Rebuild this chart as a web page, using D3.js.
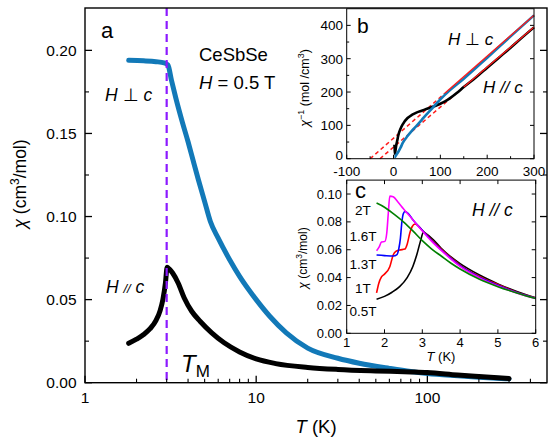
<!DOCTYPE html>
<html><head><meta charset="utf-8">
<script src="https://cdn.jsdelivr.net/npm/d3@7"></script>
<style>
body{margin:0;background:#fff;}
svg text{font-family:"Liberation Sans",Arial,Helvetica,sans-serif;fill:#000;}
</style></head><body>
<svg id="chart" width="548" height="437"></svg>
<script>
// ---------- DATA ----------
// main panel a: chi (cm3/mol) vs T (K), H = 0.5 T
const mainT_perp   = [1.8, 2.2, 2.6, 2.9, 3.05, 3.2, 3.4, 3.7, 4.0, 4.3, 4.6, 5.0, 5.4, 6, 7, 8, 10, 12, 15, 20, 30, 40, 60, 80, 100, 150, 200, 300];
const mainChi_perp = [0.194, 0.1937, 0.1932, 0.1925, 0.1912, 0.182, 0.171, 0.157, 0.145, 0.133, 0.122, 0.109, 0.097, 0.087, 0.074, 0.064, 0.050, 0.040, 0.030, 0.0208, 0.0147, 0.0117, 0.0086, 0.0067, 0.0056, 0.0042, 0.0033, 0.0023];
const mainT_par    = [1.8, 2.0, 2.2, 2.4, 2.6, 2.75, 2.85, 2.95, 3.02, 3.1, 3.25, 3.5, 3.8, 4.2, 4.7, 5.5, 6.5, 8, 10, 13, 20, 30, 50, 80, 100, 150, 200, 300];
const mainChi_par  = [0.0237, 0.0262, 0.0290, 0.0325, 0.0375, 0.0435, 0.050, 0.060, 0.0695, 0.0685, 0.066, 0.060, 0.051, 0.043, 0.037, 0.030, 0.024, 0.0185, 0.0143, 0.0115, 0.0092, 0.0080, 0.0071, 0.0065, 0.0061, 0.0046, 0.0037, 0.0025];
const transitionT = 3.0;
const mainXTicks = [1, 10, 100];
const mainXMinor = [2,3,4,5,6,7,8,9,20,30,40,50,60,70,80,90,200,300,400];
const mainYTicks = [0, 0.05, 0.10, 0.15, 0.20];
const mainYMinor = [0.025, 0.075, 0.125, 0.175];

// inset b: 1/chi (mol/cm3) vs T (K)
const bT_perp = [1.8, 3, 4, 5, 7, 10, 15, 20, 30, 40, 50, 60, 70, 80, 90, 100, 120, 150, 200, 250, 300];
const bV_perp = [5.2, 5.2, 6.9, 9.5, 14, 20, 33, 48, 68, 85, 100, 116, 132, 147, 163, 178, 205, 240, 303, 367, 430];
const bT_par  = [1.8, 2.5, 3.0, 4, 6, 8, 10, 15, 20, 30, 40, 50, 60, 70, 80, 90, 100, 110, 120, 135, 150, 175, 200, 225, 250, 275, 300];
const bV_par  = [42, 30, 14.5, 23, 42, 55, 69, 90, 104, 122, 132, 139, 144, 149, 154, 159, 165, 172, 181, 197, 215, 243, 273, 303, 333, 364, 394];
// Curie-Weiss fit lines (dashed extrapolation, solid over data)
const fitPerpDashT = [-50, 110], fitPerpDashV = [0, 196.8];
const fitPerpSolidT = [110, 300], fitPerpSolidV = [196.8, 430.5];
const fitParDashT = [-29, 150], fitParDashV = [0, 214.8];
const fitParSolidT = [150, 300], fitParSolidV = [214.8, 394.8];
const bXTicks = [-100, 0, 100, 200, 300];
const bXMinor = [-50, 50, 150, 250];
const bYTicks = [0, 100, 200, 300, 400];
const bYMinor = [50, 150, 250, 350];

// inset c: chi vs T at several fields, H // c
const cFields = ["0.5T", "1T", "1.3T", "1.6T", "2T"];
const cT_05  = [1.79, 2.0, 2.2, 2.4, 2.6, 2.75, 2.85, 2.95, 3.03, 3.1, 3.3, 3.5, 3.75, 4.0, 4.5, 5.0, 5.5, 6.0];
const cChi_05= [0.0245, 0.0265, 0.0295, 0.0335, 0.040, 0.048, 0.056, 0.066, 0.0725, 0.0715, 0.067, 0.061, 0.055, 0.050, 0.042, 0.0355, 0.030, 0.0255];
const cT_1   = [1.79, 1.85, 1.92, 2.0, 2.14, 2.23, 2.3, 2.4, 2.54, 2.6, 2.67, 2.73, 2.81, 3.0, 3.25, 3.5, 3.75, 4.0, 4.5, 5.0, 5.5, 6.0];
const cChi_1 = [0.029, 0.036, 0.0405, 0.0425, 0.0478, 0.0562, 0.0588, 0.0598, 0.0605, 0.064, 0.072, 0.0765, 0.0785, 0.074, 0.067, 0.0605, 0.0545, 0.049, 0.041, 0.035, 0.0295, 0.0253];
const cT_13  = [1.79, 2.0, 2.23, 2.33, 2.38, 2.42, 2.46, 2.5, 2.54, 2.63, 2.75, 3.0, 3.25, 3.5, 3.75, 4.0, 4.5, 5.0, 5.5, 6.0];
const cChi_13= [0.0562, 0.0558, 0.0555, 0.0565, 0.061, 0.068, 0.080, 0.086, 0.0875, 0.086, 0.0815, 0.074, 0.0665, 0.060, 0.054, 0.0485, 0.0405, 0.0345, 0.0293, 0.0252];
const cT_16  = [1.79, 1.86, 1.92, 2.01, 2.06, 2.10, 2.14, 2.23, 2.35, 2.5, 2.75, 3.0, 3.25, 3.5, 3.75, 4.0, 4.5, 5.0, 5.5, 6.0];
const cChi_16= [0.0593, 0.062, 0.0655, 0.066, 0.072, 0.086, 0.0985, 0.098, 0.0945, 0.0895, 0.0815, 0.0735, 0.066, 0.0595, 0.0535, 0.048, 0.040, 0.034, 0.029, 0.025];
const cT_2   = [1.79, 2.0, 2.25, 2.5, 2.75, 3.0, 3.25, 3.5, 3.75, 4.0, 4.5, 5.0, 5.5, 6.0];
const cChi_2 = [0.0935, 0.0905, 0.0855, 0.080, 0.0735, 0.0665, 0.0605, 0.0555, 0.0505, 0.0462, 0.039, 0.0335, 0.029, 0.025];
const cXTicks = [1, 2, 3, 4, 5, 6];
const cYTicks = [0, 0.02, 0.04, 0.06, 0.08, 0.10];

// ---------- DRAW ----------
const svg = d3.select("#chart");
const zip = (a, b) => a.map((v, i) => [v, b[i]]);

function tickLinesX(g, scale, vals, y0, len, w) {
  g.append("g").selectAll("line").data(vals).join("line")
    .attr("x1", d => scale(d)).attr("x2", d => scale(d))
    .attr("y1", y0).attr("y2", y0 + len).attr("stroke", "#000").attr("stroke-width", w);
}
function tickLinesY(g, scale, vals, x0, len, w) {
  g.append("g").selectAll("line").data(vals).join("line")
    .attr("y1", d => scale(d)).attr("y2", d => scale(d))
    .attr("x1", x0).attr("x2", x0 + len).attr("stroke", "#000").attr("stroke-width", w);
}

// ===== main panel =====
const x = d3.scaleLog().domain([1, 500]).range([85, 547]);
const y = d3.scaleLinear().domain([0, 0.2255]).range([382.7, 8]);
const main = svg.append("g");

const lineMain = d3.line().x(d => x(d[0])).y(d => y(d[1])).curve(d3.curveMonotoneX);
main.append("path").datum(zip(mainT_perp, mainChi_perp)).attr("d", lineMain)
  .attr("fill", "none").attr("stroke", "#1279b8").attr("stroke-width", 5).attr("stroke-linejoin", "round").attr("stroke-linecap", "round");
main.append("path").datum(zip(mainT_par, mainChi_par)).attr("d", lineMain)
  .attr("fill", "none").attr("stroke", "#000").attr("stroke-width", 5).attr("stroke-linejoin", "round").attr("stroke-linecap", "round");

main.append("line").attr("x1", x(transitionT)).attr("x2", x(transitionT))
  .attr("y1", y.range()[1]).attr("y2", y.range()[0])
  .attr("stroke", "#8c1aff").attr("stroke-width", 2.2).attr("stroke-dasharray", "8,5");

main.append("rect").attr("x", 85).attr("y", 8).attr("width", 462).attr("height", 382.7 - 8)
  .attr("fill", "none").attr("stroke", "#000").attr("stroke-width", 1.4);
tickLinesX(main, x, mainXTicks, 382.7, -7, 1.3);
tickLinesX(main, x, mainXMinor, 382.7, -4, 1.1);
tickLinesY(main, y, mainYTicks, 85, 7, 1.3);
tickLinesY(main, y, mainYMinor, 85, 4, 1.1);
tickLinesY(main, y, mainYTicks, 547, -7, 1.3);
tickLinesY(main, y, mainYMinor, 547, -4, 1.1);

main.append("g").selectAll("text").data(mainXTicks).join("text")
  .attr("x", d => x(d)).attr("y", 403).attr("text-anchor", "middle")
  .style("font-size", "15.5px").text(d => d);
main.append("g").selectAll("text").data(mainYTicks).join("text")
  .attr("x", 76.5).attr("y", d => y(d) + 5.5).attr("text-anchor", "end")
  .style("font-size", "15.5px").text(d => d3.format(".2f")(d));

const xt = main.append("text").attr("x", 316).attr("y", 433).attr("text-anchor", "middle").style("font-size", "18.5px");
xt.append("tspan").style("font-style", "italic").text("T");
xt.append("tspan").text(" (K)");
const yt = main.append("text").attr("transform", "translate(26,184) rotate(-90)").attr("text-anchor", "middle").style("font-size", "17.5px");
yt.append("tspan").style("font-style", "italic").text("χ");
yt.append("tspan").text(" (cm");
yt.append("tspan").attr("dy", -7).style("font-size", "12px").text("3");
yt.append("tspan").attr("dy", 7).text("/mol)");

main.append("text").attr("x", 101).attr("y", 38).style("font-size", "22px").text("a");
main.append("text").attr("x", 199).attr("y", 61).style("font-size", "18.5px").text("CeSbSe");
const hf = main.append("text").attr("x", 199).attr("y", 89).style("font-size", "18.5px");
hf.append("tspan").style("font-style", "italic").text("H");
hf.append("tspan").text(" = 0.5 T");
const hp = main.append("text").attr("x", 105).attr("y", 101).style("font-size", "17.5px");
hp.append("tspan").style("font-style", "italic").text("H");
hp.append("tspan").text(" ⊥ ");
hp.append("tspan").style("font-style", "italic").text("c");
const hpar = main.append("text").attr("x", 106).attr("y", 292.5).style("font-size", "17.5px");
hpar.append("tspan").style("font-style", "italic").text("H ");
hpar.append("tspan").style("font-style", "italic").style("font-size", "13px").text("//");
hpar.append("tspan").style("font-style", "italic").text(" c");
const tm = main.append("text").attr("x", 181).attr("y", 371.5).style("font-size", "24px");
tm.append("tspan").style("font-style", "italic").text("T");
tm.append("tspan").attr("dy", 5).style("font-size", "17px").text("M");

// ===== inset b =====
const xb = d3.scaleLinear().domain([-100, 300]).range([346.7, 534]);
const yb = d3.scaleLinear().domain([0, 450]).range([158.7, 8.7]);
const gb = svg.append("g");
gb.append("rect").attr("x", 346.7).attr("y", 8.7).attr("width", 534 - 346.7).attr("height", 150).attr("fill", "#fff");
const lineB = d3.line().x(d => xb(d[0])).y(d => yb(d[1])).curve(d3.curveMonotoneX);
const lineBL = d3.line().x(d => xb(d[0])).y(d => yb(d[1]));
gb.append("path").datum(zip(fitPerpDashT, fitPerpDashV)).attr("d", lineBL)
  .attr("fill", "none").attr("stroke", "#ff1a1a").attr("stroke-width", 1.5).attr("stroke-dasharray", "4,3");
gb.append("path").datum(zip(fitParDashT, fitParDashV)).attr("d", lineBL)
  .attr("fill", "none").attr("stroke", "#ff1a1a").attr("stroke-width", 1.5).attr("stroke-dasharray", "4,3");
gb.append("path").datum(zip(bT_par, bV_par)).attr("d", lineB)
  .attr("fill", "none").attr("stroke", "#000").attr("stroke-width", 2.6).attr("stroke-linejoin", "round");
gb.append("path").datum(zip(bT_perp, bV_perp)).attr("d", lineB)
  .attr("fill", "none").attr("stroke", "#1279b8").attr("stroke-width", 2.6).attr("stroke-linejoin", "round");
gb.append("path").datum(zip(fitPerpSolidT, fitPerpSolidV)).attr("d", lineBL)
  .attr("fill", "none").attr("stroke", "#ff1a1a").attr("stroke-width", 1.3);
gb.append("path").datum(zip(fitParSolidT, fitParSolidV)).attr("d", lineBL)
  .attr("fill", "none").attr("stroke", "#ff1a1a").attr("stroke-width", 1.3);
gb.append("rect").attr("x", 346.7).attr("y", 8.7).attr("width", 534 - 346.7).attr("height", 150)
  .attr("fill", "none").attr("stroke", "#000").attr("stroke-width", 1);
tickLinesX(gb, xb, bXTicks, 158.7, -4, 1);
tickLinesX(gb, xb, bXMinor, 158.7, -2.5, 1);
tickLinesY(gb, yb, bYTicks, 346.7, 4, 1);
tickLinesY(gb, yb, bYMinor, 346.7, 2.5, 1);
tickLinesY(gb, yb, bYTicks, 534, -4, 1);
gb.append("g").selectAll("text").data(bXTicks).join("text")
  .attr("x", d => xb(d)).attr("y", 175.5).attr("text-anchor", "middle").style("font-size", "13.5px").text(d => d);
gb.append("g").selectAll("text").data(bYTicks).join("text")
  .attr("x", 343).attr("y", d => yb(d) + (d === 0 ? 1.3 : 4.8)).attr("text-anchor", "end").style("font-size", "13.5px").text(d => d);
const ybt = gb.append("text").attr("transform", "translate(309,88) rotate(-90)").attr("text-anchor", "middle").style("font-size", "12.5px");
ybt.append("tspan").style("font-style", "italic").text("χ");
ybt.append("tspan").attr("dy", -5).style("font-size", "9px").text("−1");
ybt.append("tspan").attr("dy", 5).text(" (mol /cm");
ybt.append("tspan").attr("dy", -5).style("font-size", "9px").text("3");
ybt.append("tspan").attr("dy", 5).text(")");
gb.append("text").attr("x", 357).attr("y", 33).style("font-size", "21px").text("b");
const bh1 = gb.append("text").attr("x", 448).attr("y", 45).style("font-size", "17px");
bh1.append("tspan").style("font-style", "italic").text("H");
bh1.append("tspan").text(" ⊥ ");
bh1.append("tspan").style("font-style", "italic").text("c");
const bh2 = gb.append("text").attr("x", 483).attr("y", 93).style("font-size", "17px");
bh2.append("tspan").style("font-style", "italic").text("H ");
bh2.append("tspan").style("font-style", "italic").text("//");
bh2.append("tspan").style("font-style", "italic").text(" c");

// ===== inset c =====
const xc = d3.scaleLinear().domain([1, 6]).range([346.7, 535.7]);
const yc = d3.scaleLinear().domain([0, 0.11]).range([333.3, 180.1]);
const gc = svg.append("g");
gc.append("rect").attr("x", 346.7).attr("y", 180.1).attr("width", 535.7 - 346.7).attr("height", 333.3 - 180.1).attr("fill", "#fff");
const lineC = d3.line().x(d => xc(d[0])).y(d => yc(d[1])).curve(d3.curveMonotoneX);
const cSeries = [
  [cT_05, cChi_05, "#000000"],
  [cT_1, cChi_1, "#ff0000"],
  [cT_13, cChi_13, "#0000ff"],
  [cT_16, cChi_16, "#ff00ff"],
  [cT_2, cChi_2, "#008000"]
];
cSeries.forEach(s => {
  gc.append("path").datum(zip(s[0], s[1])).attr("d", lineC)
    .attr("fill", "none").attr("stroke", s[2]).attr("stroke-width", 1.6);
});
gc.append("rect").attr("x", 346.7).attr("y", 180.1).attr("width", 535.7 - 346.7).attr("height", 333.3 - 180.1)
  .attr("fill", "none").attr("stroke", "#000").attr("stroke-width", 1);
tickLinesX(gc, xc, cXTicks, 333.3, -4, 1);
tickLinesX(gc, xc, cXTicks, 180.1, 4, 1);
tickLinesY(gc, yc, cYTicks, 346.7, 4, 1);
tickLinesY(gc, yc, cYTicks, 535.7, -4, 1);
gc.append("g").selectAll("text").data(cXTicks).join("text")
  .attr("x", d => xc(d)).attr("y", 347).attr("text-anchor", "middle").style("font-size", "13px").text(d => d);
gc.append("g").selectAll("text").data(cYTicks).join("text")
  .attr("x", 342).attr("y", d => yc(d) + 4.6).attr("text-anchor", "end").style("font-size", "13px").text(d => d3.format(".2f")(d));
const cxt = gc.append("text").attr("x", 441).attr("y", 361).attr("text-anchor", "middle").style("font-size", "13px");
cxt.append("tspan").style("font-style", "italic").text("T");
cxt.append("tspan").text(" (K)");
const cyt = gc.append("text").attr("transform", "translate(307,258) rotate(-90)").attr("text-anchor", "middle").style("font-size", "12px");
cyt.append("tspan").style("font-style", "italic").text("χ");
cyt.append("tspan").text(" (cm");
cyt.append("tspan").attr("dy", -5).style("font-size", "8.5px").text("3");
cyt.append("tspan").attr("dy", 5).text("/mol)");
gc.append("text").attr("x", 355).attr("y", 198).style("font-size", "22px").text("c");
const ch = gc.append("text").attr("x", 472).attr("y", 216).style("font-size", "17.5px");
ch.append("tspan").style("font-style", "italic").text("H ");
ch.append("tspan").style("font-style", "italic").text("//");
ch.append("tspan").style("font-style", "italic").text(" c");
const cLabelY = [316, 292.5, 269, 241, 215];
gc.append("g").selectAll("text").data(cFields).join("text")
  .attr("x", 363).attr("y", (d, i) => cLabelY[i]).attr("text-anchor", "middle")
  .style("font-size", "13.5px").text(d => d);
</script>
</body></html>
